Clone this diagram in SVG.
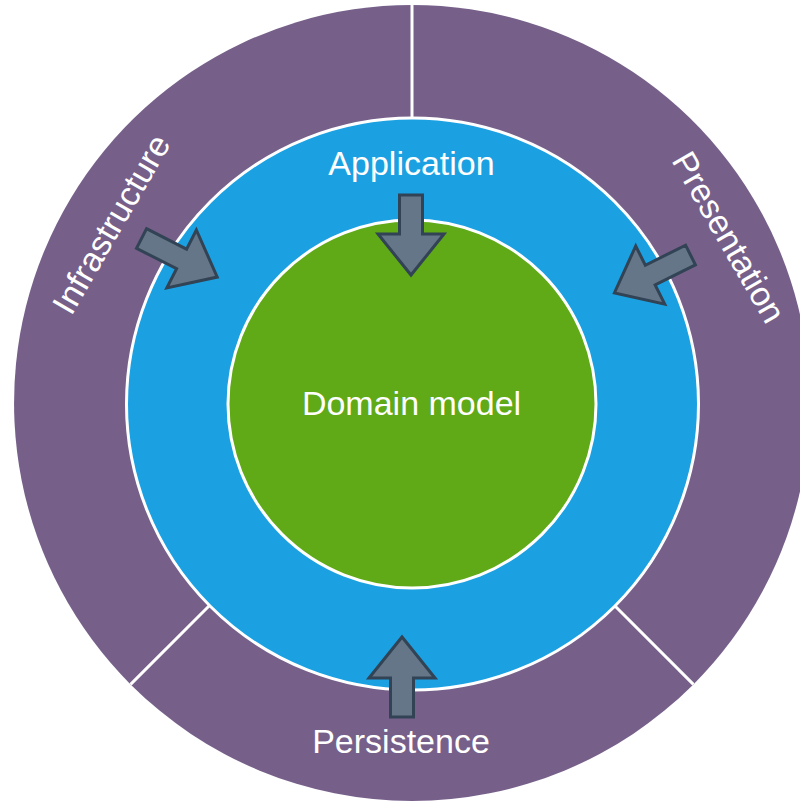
<svg xmlns="http://www.w3.org/2000/svg" xmlns:xlink="http://www.w3.org/1999/xlink" width="800" height="802" viewBox="0 0 800 802">
  <style>
    .ring { fill: #76608a; stroke: none; }
    .divider { stroke: #ffffff; stroke-width: 3; fill: none; }
    .app { fill: #1ba1e2; stroke: #ffffff; stroke-width: 3; }
    .domain { fill: #60a917; stroke: #ffffff; stroke-width: 3; }
    .label { fill: #ffffff; font-family: "Liberation Sans", Arial, sans-serif; font-size: 34px; text-anchor: middle; }
    .arrow { fill: #647687; stroke: #314354; stroke-width: 3; stroke-linejoin: miter; }
  </style>
  <defs>
    <path id="arrV" d="M0,-11.5 L39,-11.5 L39,-33 L80,0 L39,33 L39,11.5 L0,11.5 Z"/>
    <path id="arrD" d="M0,-11 L45,-11 L45,-32.5 L85,0 L45,32.5 L45,11 L0,11 Z"/>
  </defs>
  <rect width="800" height="802" fill="#ffffff"/>

  <g id="infrastructure">
    <path class="ring" d="M412,403 L412,5 A398,398 0 0 0 130.6,684.4 Z"/>
    <text class="label" transform="translate(111,224) rotate(-60)" y="12">Infrastructure</text>
  </g>
  <g id="presentation">
    <path class="ring" d="M412,403 L412,5 A398,398 0 0 1 693.4,684.4 Z"/>
    <text class="label" transform="translate(729,237) rotate(60)" y="12">Presentation</text>
  </g>
  <g id="persistence">
    <path class="ring" d="M412,403 L693.4,684.4 A398,398 0 0 1 130.6,684.4 Z"/>
    <text class="label" x="401" y="753">Persistence</text>
  </g>
  <g id="dividers">
    <line class="divider" x1="412" y1="5" x2="412" y2="130"/>
    <line class="divider" x1="130.6" y1="684.4" x2="220" y2="595"/>
    <line class="divider" x1="693.4" y1="684.4" x2="604" y2="595"/>
  </g>
  <g id="application">
    <circle class="app" cx="412.5" cy="404" r="286"/>
    <text class="label" x="411.5" y="175">Application</text>
  </g>
  <g id="domain-model">
    <circle class="domain" cx="412" cy="404" r="184"/>
    <text class="label" x="411.5" y="415">Domain model</text>
  </g>

  <g id="connectors">
    <use xlink:href="#arrV" class="arrow" transform="translate(411,195) rotate(90)"/>
    <use xlink:href="#arrV" class="arrow" transform="translate(402,717) rotate(-90)"/>
    <use xlink:href="#arrD" class="arrow" transform="translate(141.5,238.5) rotate(27)"/>
    <use xlink:href="#arrD" class="arrow" transform="translate(690.5,255) rotate(153.5)"/>
  </g>
</svg>
